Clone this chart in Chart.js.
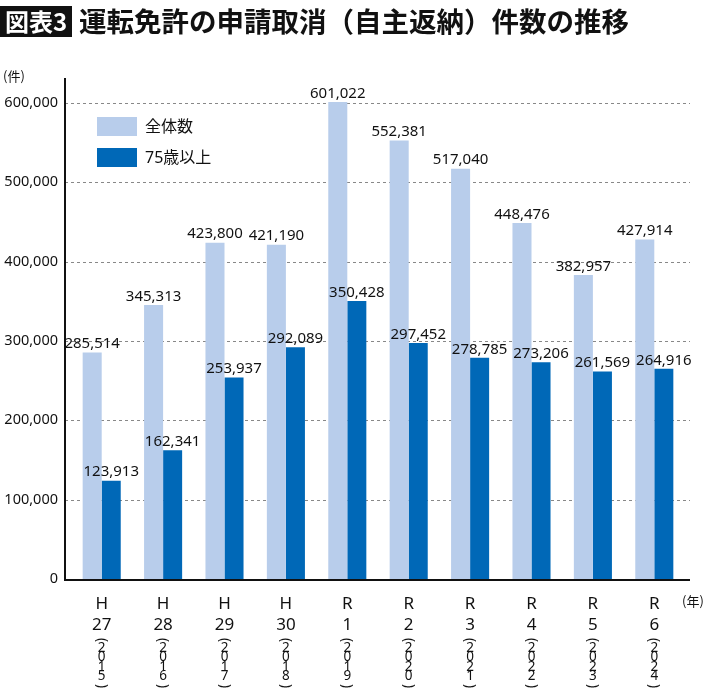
<!DOCTYPE html>
<html>
<head>
<meta charset="utf-8">
<script src="https://cdn.jsdelivr.net/npm/chart.js@4.4.1/dist/chart.umd.min.js"></script>
<style>
  html, body { margin: 0; padding: 0; background: #fff; }
  canvas { display: block; }
</style>
</head>
<body>
<canvas id="grafico" width="710" height="697"></canvas>
<script>
// datos
var eras = ['H', 'H', 'H', 'H', 'R', 'R', 'R', 'R', 'R', 'R'];
var nen = ['27', '28', '29', '30', '1', '2', '3', '4', '5', '6'];
var seireki = ['2015', '2016', '2017', '2018', '2019', '2020', '2021', '2022', '2023', '2024'];
var zentai = [285514, 345313, 423800, 421190, 601022, 552381, 517040, 448476, 382957, 427914];
var koureisha = [123913, 162341, 253937, 292089, 350428, 297452, 278785, 273206, 261569, 264916];
var yTicks = [0, 100000, 200000, 300000, 400000, 500000, 600000];

var FONT = '"Noto Sans", "Noto Sans CJK JP", sans-serif';
var FONT_JP = '"Noto Sans CJK JP", sans-serif';
var CLARO = '#b8cdeb';
var OSCURO = '#0068b7';

// titulo, ejes, leyenda, etiquetas
var dibujoExtra = {
    id: 'dibujoExtra',
    beforeDatasetsDraw: function (chart) {
        var ctx = chart.ctx;
        var area = chart.chartArea;
        var y = chart.scales.y;
        ctx.save();
        // lineas punteadas
        ctx.strokeStyle = '#888';
        ctx.lineWidth = 1;
        ctx.setLineDash([3, 3]);
        yTicks.forEach(function (v) {
            if (v === 0) return;
            var py = Math.round(y.getPixelForValue(v)) + 0.5;
            ctx.beginPath();
            ctx.moveTo(area.left - 6, py);
            ctx.lineTo(area.right + 5, py);
            ctx.stroke();
        });
        ctx.restore();
    },
    afterDatasetsDraw: function (chart) {
        var ctx = chart.ctx;
        var area = chart.chartArea;
        var x = chart.scales.x;
        ctx.save();
        // ejes
        ctx.strokeStyle = '#111';
        ctx.lineWidth = 2;
        ctx.beginPath();
        ctx.moveTo(area.left - 6, area.top - 1);
        ctx.lineTo(area.left - 6, area.bottom + 1);
        ctx.lineTo(area.right + 5, area.bottom + 1);
        ctx.stroke();

        // valores sobre las barras
        ctx.fillStyle = '#111';
        ctx.font = '15px ' + FONT;
        ctx.textAlign = 'center';
        ctx.textBaseline = 'bottom';
        chart.data.datasets.forEach(function (ds, i) {
            chart.getDatasetMeta(i).data.forEach(function (bar, j) {
                ctx.fillText(ds.data[j].toLocaleString('en-US'), bar.x, bar.y - 1);
            });
        });

        // etiquetas eje x
        for (var k = 0; k < eras.length; k++) {
            var px = x.getPixelForValue(k);
            ctx.font = '17px ' + FONT;
            ctx.textBaseline = 'middle';
            ctx.fillText(eras[k], px, 604);
            ctx.fillText(nen[k], px, 625);
            ctx.font = '13.5px ' + FONT;
            var digitos = seireki[k].split('');
            for (var d = 0; d < digitos.length; d++) {
                ctx.fillText(digitos[d], px, 648 + d * 9.5);
            }
            ctx.save();
            ctx.translate(px, 640);
            ctx.rotate(Math.PI / 2);
            ctx.fillText('(', 0, 0);
            ctx.restore();
            ctx.save();
            ctx.translate(px, 686);
            ctx.rotate(Math.PI / 2);
            ctx.fillText(')', 0, 0);
            ctx.restore();
        }

        // unidades
        ctx.font = '13px ' + FONT_JP;
        ctx.textAlign = 'left';
        ctx.fillText('(件)', 3, 76);
        ctx.fillText('(年)', 682, 601);

        // leyenda
        var items = [['全体数', CLARO], ['75歳以上', OSCURO]];
        items.forEach(function (it, n) {
            var ly = 117 + n * 31;
            ctx.fillStyle = it[1];
            ctx.fillRect(97, ly, 40, 19);
            ctx.fillStyle = '#111';
            ctx.font = '16px ' + FONT;
            ctx.fillText(it[0], 145, ly + 10);
        });

        // titulo
        ctx.fillStyle = '#111';
        ctx.fillRect(0, 6, 72, 31);
        ctx.fillStyle = '#fff';
        ctx.font = 'bold 24px ' + FONT_JP;
        ctx.textAlign = 'center';
        ctx.fillText('図表3', 36, 22);
        ctx.fillStyle = '#111';
        ctx.font = 'bold 27.5px ' + FONT_JP;
        ctx.textAlign = 'left';
        ctx.fillText('運転免許の申請取消（自主返納）件数の推移', 79, 22);
        ctx.restore();
    }
};

var config = {
    type: 'bar',
    data: {
        labels: nen,
        datasets: [{
            label: '全体数',
            data: zentai,
            backgroundColor: CLARO,
            categoryPercentage: 0.62,
            barPercentage: 1.0
        }, {
            label: '75歳以上',
            data: koureisha,
            backgroundColor: OSCURO,
            categoryPercentage: 0.62,
            barPercentage: 1.0
        }]
    },
    options: {
        responsive: false,
        devicePixelRatio: 1,
        animation: false,
        layout: { padding: { top: 79, right: 25, left: 0, bottom: 0 } },
        plugins: {
            legend: { display: false },
            tooltip: { enabled: false }
        },
        scales: {
            x: {
                grid: { display: false },
                border: { display: false },
                ticks: { display: false },
                afterFit: function (s) { s.height = 118; }
            },
            y: {
                min: 0,
                max: 630000,
                grid: { display: false, drawTicks: false },
                border: { display: false },
                afterFit: function (s) { s.width = 71; },
                afterBuildTicks: function (s) {
                    s.ticks = yTicks.map(function (v) { return { value: v }; });
                },
                ticks: {
                    padding: 13,
                    color: '#111',
                    font: { family: FONT, size: 14.5 },
                    callback: function (v) { return v.toLocaleString('en-US'); }
                }
            }
        }
    },
    plugins: [dibujoExtra]
};

window.myBar = new Chart(document.getElementById('grafico'), config);
</script>
</body>
</html>
